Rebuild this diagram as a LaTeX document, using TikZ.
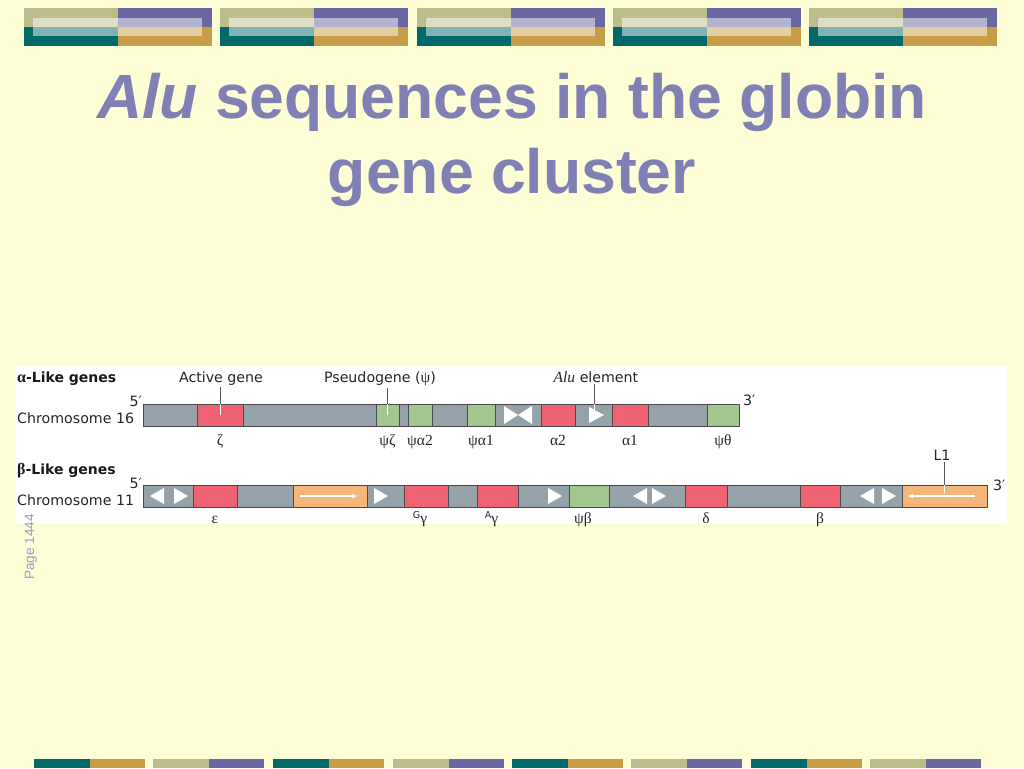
\documentclass[tikz,border=0pt]{standalone}
\usepackage{fontspec}
\newfontfamily\titlefont{Liberation Sans}
\newfontfamily\diafont{DejaVu Sans}
\newfontfamily\greekfont{Liberation Serif}
\usetikzlibrary{positioning,arrows.meta}
\definecolor{bgyellow}{HTML}{FDFDD6}
\definecolor{titlecol}{HTML}{8080B4}
\definecolor{pagecol}{HTML}{9A9AD2}
\definecolor{seggray}{HTML}{96A2AA}
\definecolor{segred}{HTML}{EE6272}
\definecolor{seggreen}{HTML}{A2C690}
\definecolor{segorange}{HTML}{F7B679}
\definecolor{segline}{HTML}{4A4A4A}
\definecolor{tilekhaki}{HTML}{BDBD8C}
\definecolor{tilepurple}{HTML}{6A67A3}
\definecolor{tileteal}{HTML}{00696A}
\definecolor{tilegold}{HTML}{C79D48}

\begin{document}
\begin{tikzpicture}
[x=1pt, y=-1pt,
seg/.style={draw=segline, line width=0.8pt, minimum height=22pt, inner sep=0pt, outer sep=0pt},
plain/.style={seg, fill=seggray},
activegene/.style={seg, fill=segred},
pseudo/.style={seg, fill=seggreen},
lone/.style={seg, fill=segorange},
alu/.style={fill=white},
lbl/.style={font=\diafont\fontsize{14.2}{17}\selectfont, text=black!85, inner sep=0pt},
hdr/.style={font=\diafont\bfseries\fontsize{14}{17}\selectfont, text=black!90, inner sep=0pt},
gname/.style={font=\greekfont\fontsize{15.5}{18}\selectfont, text=black!85, inner sep=0pt, anchor=base},
pointer/.style={draw=black!65, line width=0.8pt, shorten <=2pt},
pointerin/.style={draw=white, line width=0.8pt},
repeatarrow/.style={draw=white, line width=1.2pt, -{Latex[length=6pt, width=5pt]}},
titletext/.style={font=\titlefont\bfseries\fontsize{62.5}{75}\selectfont, text=titlecol, inner sep=0pt, anchor=base},]
    % slide
    \fill[bgyellow] (0,0) rectangle (1024,768);
    \useasboundingbox (0,0) rectangle (1024,768);
    \foreach \x in {24,220,417,613,809} {
        \fill[tilekhaki] (\x,8) rectangle ++(94,19);
        \fill[tilepurple] (\x+94,8) rectangle ++(94,19);
        \fill[tileteal] (\x,27) rectangle ++(94,19);
        \fill[tilegold] (\x+94,27) rectangle ++(94,19);
        \fill[white, opacity=0.5] (\x+9,18) rectangle (\x+178,36);
    }
    \foreach \x/\ca/\cb in {34/tileteal/tilegold, 153/tilekhaki/tilepurple, 273/tileteal/tilegold, 393/tilekhaki/tilepurple, 512/tileteal/tilegold, 631/tilekhaki/tilepurple, 751/tileteal/tilegold, 870/tilekhaki/tilepurple} {
        \fill[\ca] (\x,759) rectangle ++(55.5,9);
        \fill[\cb] (\x+55.5,759) rectangle ++(55.5,9);
    }
    \node[titletext] (title1) at (512,118) {\itshape Alu\upshape{} sequences in the globin};
    \node[titletext] (title2) at ([yshift=-75pt]title1.base) {gene cluster};
    \fill[white] (16,366) rectangle (1007,524);
    \node[font=\titlefont\fontsize{13.5}{16}\selectfont, text=pagecol, rotate=90, inner sep=0pt] (page) at (31,547) {Page 1444};
    % chromosome 16
    \node[plain, minimum width=54pt, anchor=west] (c16a) at (143,415) {};
    \node[activegene, minimum width=46pt, right=0pt of c16a] (zeta) {};
    \node[plain, minimum width=133pt, right=0pt of zeta] (c16b) {};
    \node[pseudo, minimum width=23pt, right=0pt of c16b] (psizeta) {};
    \node[plain, minimum width=9pt, right=0pt of psizeta] (c16c) {};
    \node[pseudo, minimum width=24pt, right=0pt of c16c] (psialphatwo) {};
    \node[plain, minimum width=35pt, right=0pt of psialphatwo] (c16d) {};
    \node[pseudo, minimum width=28pt, right=0pt of c16d] (psialphaone) {};
    \node[plain, minimum width=46pt, right=0pt of psialphaone] (c16e) {};
    \node[activegene, minimum width=34pt, right=0pt of c16e] (alphatwo) {};
    \node[plain, minimum width=37pt, right=0pt of alphatwo] (c16f) {};
    \node[activegene, minimum width=36pt, right=0pt of c16f] (alphaone) {};
    \node[plain, minimum width=59pt, right=0pt of alphaone] (c16g) {};
    \node[pseudo, minimum width=32pt, right=0pt of c16g] (psitheta) {};
    \fill[alu] (504,406) -- (518,415) -- (504,424) -- cycle;
    \fill[alu] (532,406) -- (518,415) -- (532,424) -- cycle;
    \fill[alu] (589,407) -- (604,415) -- (589,423) -- cycle;
    \coordinate (alutri) at (594,413);
    % chromosome 11
    \node[plain, minimum width=50pt, anchor=west] (c11a) at (143,496) {};
    \node[activegene, minimum width=44pt, right=0pt of c11a] (eps) {};
    \node[plain, minimum width=56pt, right=0pt of eps] (c11b) {};
    \node[lone, minimum width=74pt, right=0pt of c11b] (lonea) {};
    \node[plain, minimum width=37pt, right=0pt of lonea] (c11c) {};
    \node[activegene, minimum width=44pt, right=0pt of c11c] (ggamma) {};
    \node[plain, minimum width=29pt, right=0pt of ggamma] (c11d) {};
    \node[activegene, minimum width=41pt, right=0pt of c11d] (agamma) {};
    \node[plain, minimum width=51pt, right=0pt of agamma] (c11e) {};
    \node[pseudo, minimum width=40pt, right=0pt of c11e] (psibeta) {};
    \node[plain, minimum width=76pt, right=0pt of psibeta] (c11f) {};
    \node[activegene, minimum width=42pt, right=0pt of c11f] (delta) {};
    \node[plain, minimum width=73pt, right=0pt of delta] (c11g) {};
    \node[activegene, minimum width=40pt, right=0pt of c11g] (beta) {};
    \node[plain, minimum width=62pt, right=0pt of beta] (c11h) {};
    \node[lone, minimum width=85pt, right=0pt of c11h] (loneb) {};
    \fill[alu] (164,488) -- (150,496) -- (164,504) -- cycle;
    \fill[alu] (174,488) -- (188,496) -- (174,504) -- cycle;
    \fill[alu] (374,488) -- (388,496) -- (374,504) -- cycle;
    \fill[alu] (548,488) -- (562,496) -- (548,504) -- cycle;
    \fill[alu] (647,488) -- (633,496) -- (647,504) -- cycle;
    \fill[alu] (652,488) -- (666,496) -- (652,504) -- cycle;
    \fill[alu] (874,488) -- (860,496) -- (874,504) -- cycle;
    \fill[alu] (882,488) -- (896,496) -- (882,504) -- cycle;
    \draw[repeatarrow] ([xshift=7pt]lonea.west) -- ([xshift=-9pt]lonea.east);
    \draw[repeatarrow] ([xshift=-12pt]loneb.east) -- ([xshift=5pt]loneb.west);
    % texts
    \node[hdr, anchor=base west] (alphahdr) at (17,382) {{\greekfont\fontsize{16}{18}\selectfont α}-Like genes};
    \node[lbl, anchor=base west] (chrsixteen) at (17,423) {Chromosome 16};
    \node[lbl, anchor=base east] (fivesixteen) at (142,406) {5′};
    \node[lbl, anchor=base west] (threesixteen) at (743,405) {3′};
    \node[hdr, anchor=base west] (betahdr) at (17,474) {{\greekfont\fontsize{16}{18}\selectfont β}-Like genes};
    \node[lbl, anchor=base west] (chreleven) at (17,505) {Chromosome 11};
    \node[lbl, anchor=base east] (fiveeleven) at (142,488) {5′};
    \node[lbl, anchor=base west] (threeeleven) at (993,490) {3′};
    \node[lbl, anchor=base] (activelbl) at (221,382) {Active gene};
    \node[lbl, anchor=base] (pseudolbl) at (380,382) {Pseudogene ({\greekfont\fontsize{15.5}{18}\selectfont ψ})};
    \node[lbl, anchor=base] (alulbl) at (596,382) {{\greekfont\itshape\fontsize{15.5}{18}\selectfont Alu} element};
    \node[lbl, anchor=base] (lonelbl) at (942,460) {L1};
    \draw[pointer] (activelbl.south -| zeta.center) -- (zeta.north);
    \draw[pointerin] (zeta.north) -- (zeta.center);
    \draw[pointer] (pseudolbl.south -| psizeta.center) -- (psizeta.north);
    \draw[pointerin] (psizeta.north) -- (psizeta.center);
    \draw[pointer] (alulbl.south -| alutri) -- (c16f.north -| alutri);
    \draw[pointerin] (c16f.north -| alutri) -- (alutri);
    \draw[pointer] (lonelbl.south -| loneb.center) -- (loneb.north);
    \draw[pointerin] (loneb.north) -- ([yshift=3pt]loneb.center);
    \node[gname] (lzeta) at ([yshift=-19pt]zeta.south) {ζ};
    \node[gname] (lpsizeta) at ([yshift=-19pt]psizeta.south) {ψζ};
    \node[gname] (lpsialphatwo) at ([yshift=-19pt]psialphatwo.south) {ψα2};
    \node[gname] (lpsialphaone) at ([yshift=-19pt]psialphaone.south) {ψα1};
    \node[gname] (lalphatwo) at ([yshift=-19pt]alphatwo.south) {α2};
    \node[gname] (lalphaone) at ([yshift=-19pt]alphaone.south) {α1};
    \node[gname] (lpsitheta) at ([yshift=-19pt]psitheta.south) {ψθ};
    \node[gname] (leps) at ([yshift=-16pt]eps.south) {ε};
    \node[gname] (lggamma) at ([xshift=-6pt,yshift=-16pt]ggamma.south) {\raisebox{5pt}{\diafont\fontsize{9.5}{10}\selectfont G}γ};
    \node[gname] (lagamma) at ([xshift=-6pt,yshift=-16pt]agamma.south) {\raisebox{5pt}{\diafont\fontsize{9.5}{10}\selectfont A}γ};
    \node[gname] (lpsibeta) at ([xshift=-6pt,yshift=-16pt]psibeta.south) {ψβ};
    \node[gname] (ldelta) at ([yshift=-16pt]delta.south) {δ};
    \node[gname] (lbeta) at ([yshift=-16pt]beta.south) {β};
\end{tikzpicture}
\end{document}
